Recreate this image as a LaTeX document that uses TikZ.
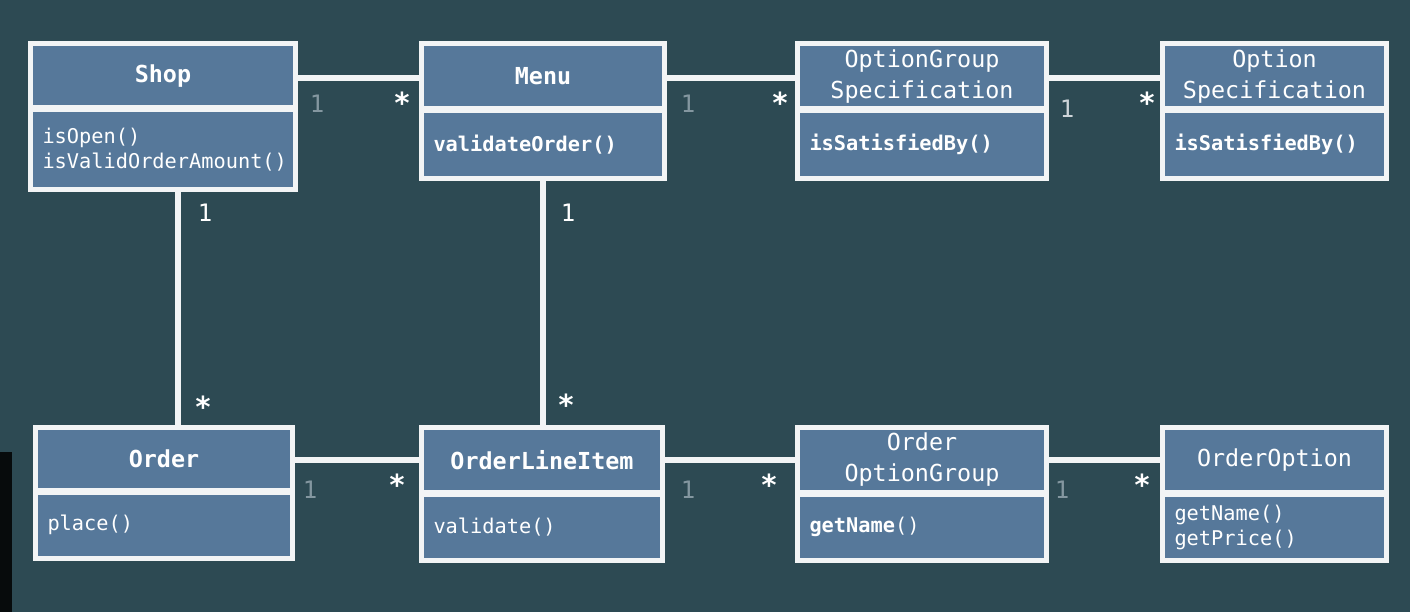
\documentclass[tikz,border=0pt]{standalone}
\usepackage{fontspec}
\setmonofont{DejaVu Sans Mono}
\definecolor{bgcol}{HTML}{2D4A53}
\definecolor{boxfill}{HTML}{56789A}
\definecolor{frame}{HTML}{F2F4F5}
\definecolor{onegray}{HTML}{8497A0}
\newcommand{\umlclass}[8]{%
  \node[hdr, minimum width=#4pt, minimum height=#5pt] (#1) at (#2,#3) {#7};
  \node[bodybox, minimum width=#4pt, minimum height=#6pt,
        text width=\dimexpr #4pt-24pt\relax] (#1b) at (#2,#3+#5+2) {#8};
}
\begin{document}
\begin{tikzpicture}[x=1pt,y=-1pt,
  hdr/.style={draw=frame, line width=5pt, fill=boxfill, anchor=north west,
    outer sep=0pt, inner sep=0pt, align=center, text=white,
    font=\ttfamily\fontsize{23.4}{31}\selectfont},
  bodybox/.style={draw=frame, line width=5pt, fill=boxfill, anchor=north west,
    outer sep=0pt, inner xsep=12pt, inner ysep=0pt, align=left, text=white,
    font=\ttfamily\fontsize{20.3}{24.5}\selectfont},
  conn/.style={draw=frame, line width=5.5pt},
  one/.style={anchor=base, text=onegray, font=\ttfamily\fontsize{24}{24}\selectfont},
  onew/.style={anchor=base, text=white, font=\ttfamily\fontsize{24}{24}\selectfont},
  many/.style={anchor=base, text=white, font=\ttfamily\bfseries\fontsize{29}{29}\selectfont}]
\fill[bgcol] (0,0) rectangle (1410,612);
\useasboundingbox (0,0) rectangle (1410,612);
\fill[black!85!bgcol] (0,452) rectangle (12,612);

\umlclass{shop}{30.5}{43.5}{265}{64.5}{79.5}{\bfseries Shop}{isOpen()\\isValidOrderAmount()}
\umlclass{menu}{421.5}{43.5}{243}{65.5}{67.5}{\bfseries Menu}{\bfseries validateOrder()}
\umlclass{ogs}{797.5}{43.5}{249}{65.5}{67.5}{OptionGroup\\Specification}{\bfseries isSatisfiedBy()}
\umlclass{os}{1162.5}{43.5}{224}{65.5}{67.5}{Option\\Specification}{\bfseries isSatisfiedBy()}
\umlclass{order}{35.5}{427.5}{257}{62.5}{66.5}{\bfseries Order}{place()}
\umlclass{oli}{421.5}{427.5}{241}{64.5}{66.5}{\bfseries OrderLineItem}{validate()}
\umlclass{oog}{797.5}{427.5}{249}{64.5}{66.5}{Order\\OptionGroup}{{\bfseries getName}()}
\umlclass{oo}{1162.5}{427.5}{224}{64.5}{66.5}{OrderOption}{getName()\\getPrice()}

\draw[conn] ([yshift=-2.5pt]shop.east) -- ([yshift=-2.5pt]shop.east -| menu.west);
\draw[conn] ([yshift=-2pt]menu.east) -- ([yshift=-2pt]menu.east -| ogs.west);
\draw[conn] ([yshift=-2pt]ogs.east) -- ([yshift=-2pt]ogs.east -| os.west);
\draw[conn] ([xshift=15pt]shopb.south) -- ([xshift=15pt]shopb.south |- order.north);
\draw[conn] (menub.south) -- (menub.south |- oli.north);
\draw[conn] ([yshift=-1pt]order.east) -- ([yshift=-1pt]order.east -| oli.west);
\draw[conn] (oli.east) -- (oli.east -| oog.west);
\draw[conn] (oog.east) -- (oog.east -| oo.west);

% multiplicities
\node[one]  (m1a) at (317,113) {1};
\node[many] (m1b) at (402,114) {*};
\node[one]  (m2a) at (688,113) {1};
\node[many] (m2b) at (780,114) {*};
\node[one, text=onegray!40!white]  (m3a) at (1067,118) {1};
\node[many] (m3b) at (1147,114) {*};
\node[onew] (m4a) at (205,222) {1};
\node[many] (m4b) at (203,417) {*};
\node[onew] (m5a) at (568,222) {1};
\node[many] (m5b) at (566,415) {*};
\node[one]  (m6a) at (310,498) {1};
\node[many] (m6b) at (397,495) {*};
\node[one]  (m7a) at (688,498) {1};
\node[many] (m7b) at (769,495) {*};
\node[one]  (m8a) at (1062,498) {1};
\node[many] (m8b) at (1142,495) {*};
\end{tikzpicture}
\end{document}
